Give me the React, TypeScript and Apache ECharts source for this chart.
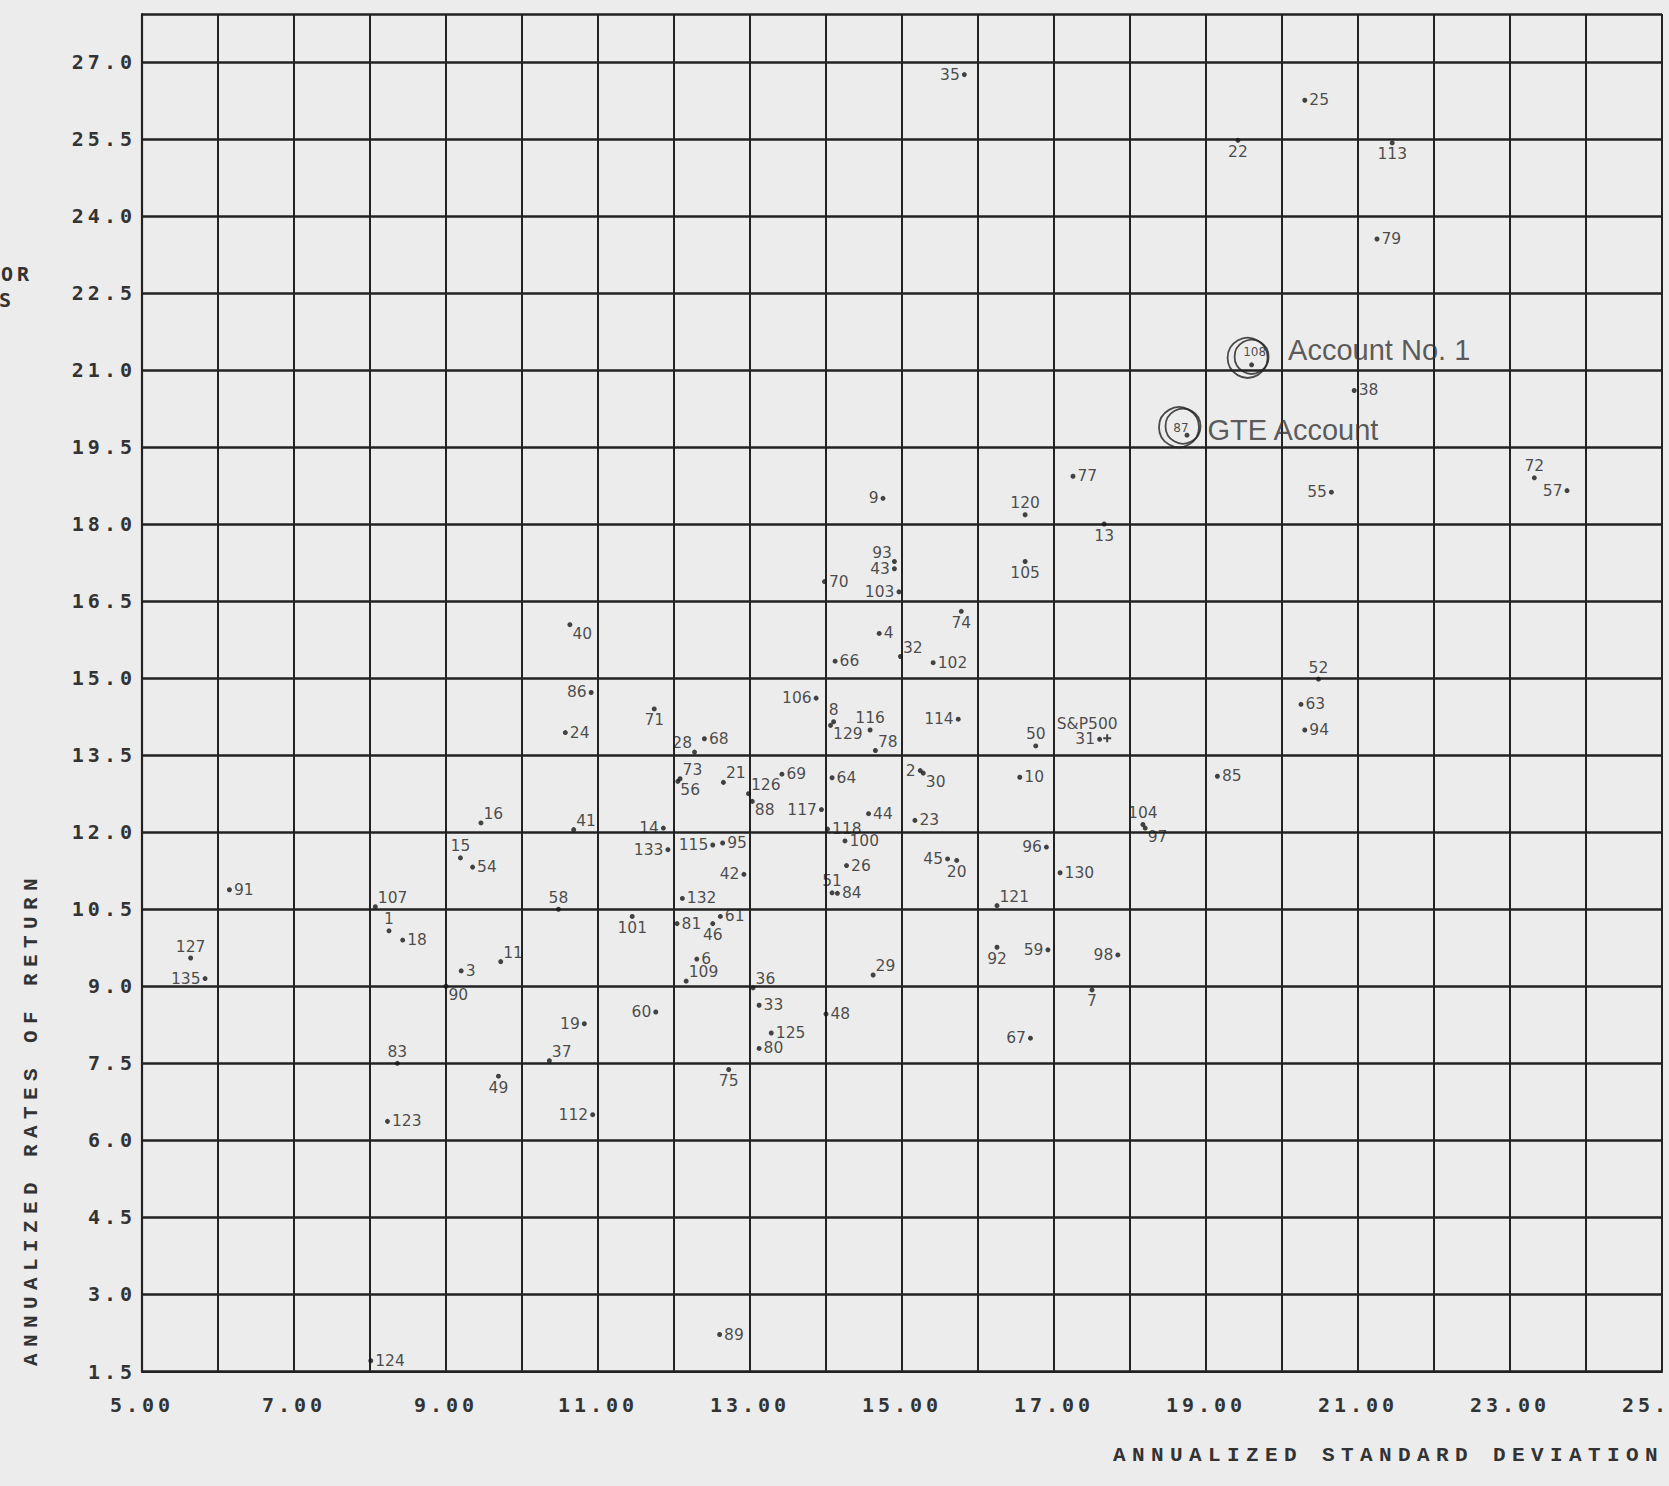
import React, { useEffect, useRef } from "react";
import * as echarts from "echarts";

// ---- data ----
const fundIds = [
  1, 2, 3, 4, 6, 7, 8, 9, 10, 11, 13, 14, 15, 16, 18, 19, 20, 21, 22, 23,
  24, 25, 26, 28, 29, 30, 31, 32, 33, 35, 36, 37, 38, 40, 41, 42, 43, 44, 45, 46,
  48, 49, 50, 51, 52, 54, 55, 56, 57, 58, 59, 60, 61, 63, 64, 66, 67, 68, 69, 70,
  71, 72, 73, 74, 75, 77, 78, 79, 80, 81, 83, 84, 85, 86, 87, 88, 89, 90, 91, 92,
  93, 94, 95, 96, 97, 98, 100, 101, 102, 103, 104, 105, 106, 107, 108, 109, 112, 113, 114, 115,
  116, 117, 118, 120, 121, 123, 124, 125, 126, 127, 129, 130, 132, 133, 135,
];

const stdDevs = [
  8.25, 15.24, 9.2, 14.7, 12.3, 17.5, 14.1, 14.75, 16.55, 9.72, 17.66, 11.86, 9.19, 9.46, 8.43, 10.82, 15.72, 12.65, 19.42, 15.17,
  10.57, 20.3, 14.27, 12.27, 14.62, 15.28, 17.6, 14.98, 13.12, 15.82, 13.04, 10.36, 20.95, 10.63, 10.68, 12.92, 14.9, 14.56, 15.6, 12.51,
  14.0, 9.69, 16.76, 14.08, 20.48, 9.35, 20.65, 12.05, 23.75, 10.48, 16.92, 11.76, 12.61, 20.25, 14.08, 14.12, 16.69, 12.4, 13.42, 13.98,
  11.74, 23.32, 12.08, 15.78, 12.72, 17.25, 14.65, 21.25, 13.12, 12.04, 8.36, 14.15, 19.15, 10.91, 18.75, 13.03, 12.6, 9.0, 6.15, 16.25,
  14.9, 20.3, 12.64, 16.9, 18.2, 17.84, 14.25, 11.45, 15.41, 14.96, 18.17, 16.62, 13.87, 8.07, 19.6, 12.16, 10.93, 21.45, 15.74, 12.51,
  14.58, 13.94, 14.02, 16.62, 16.25, 8.23, 8.01, 13.28, 12.98, 5.64, 14.06, 17.08, 12.11, 11.92, 5.83,
];

const annualReturns = [
  10.08, 13.2, 9.3, 15.87, 9.53, 8.93, 14.15, 18.5, 13.07, 9.48, 18.0, 12.08, 11.5, 12.18, 9.9, 8.27, 11.45, 12.97, 25.47, 12.23,
  13.94, 26.25, 11.35, 13.56, 9.22, 13.15, 13.81, 15.42, 8.63, 26.75, 8.97, 7.55, 20.6, 16.04, 12.05, 11.18, 17.13, 12.36, 11.48, 10.22,
  8.46, 7.25, 13.68, 10.82, 14.98, 11.32, 18.62, 12.99, 18.65, 10.5, 9.71, 8.5, 10.36, 14.49, 13.06, 15.33, 7.99, 13.82, 13.13, 16.88,
  14.4, 18.9, 13.04, 16.3, 7.38, 18.93, 13.59, 23.55, 7.79, 10.22, 7.5, 10.81, 13.09, 14.72, 19.73, 12.6, 2.22, 9.0, 10.88, 9.76,
  17.27, 13.99, 11.79, 11.71, 12.08, 9.61, 11.83, 10.36, 15.3, 16.68, 12.15, 17.27, 14.61, 10.55, 21.1, 9.1, 6.5, 25.42, 14.2, 11.75,
  13.99, 12.44, 12.06, 18.18, 10.57, 6.37, 1.71, 8.09, 12.75, 9.55, 14.08, 11.21, 10.71, 11.66, 9.15,
];

const benchmarkName = ["S&P500"];
const benchmarkStdDev = [17.7];
const benchmarkReturn = [13.83];

const xTickValues = [5, 7, 9, 11, 13, 15, 17, 19, 21, 23, 25];
const yTickStep = 1.5;

const highlighted = [
  { id: 108, title: "Account No. 1" },
  { id: 87, title: "GTE Account" },
];

// ---- label placement (style only) ----
const labelSide: Record<number, string> = {
  1: "t", 2: "l", 3: "r", 4: "r", 6: "r", 7: "b", 8: "t", 9: "l", 10: "r", 11: "tr",
  13: "b", 14: "l", 15: "t", 16: "tr", 18: "r", 19: "l", 20: "b", 21: "tr", 22: "b", 23: "r",
  24: "r", 25: "r", 26: "r", 28: "tl", 29: "tr", 30: "br", 31: "l", 32: "tr", 33: "r", 35: "l",
  36: "tr", 37: "tr", 38: "r", 40: "br", 41: "tr", 42: "l", 43: "l", 44: "r", 45: "l", 46: "b",
  48: "r", 49: "b", 50: "t", 51: "t", 52: "t", 54: "r", 55: "l", 56: "br", 57: "l", 58: "t",
  59: "l", 60: "l", 61: "r", 63: "r", 64: "r", 66: "r", 67: "l", 68: "r", 69: "r", 70: "r",
  71: "b", 72: "t", 73: "tr", 74: "b", 75: "b", 77: "r", 78: "tr", 79: "r", 80: "r", 81: "r",
  83: "t", 84: "r", 85: "r", 86: "l", 87: "c87", 88: "br", 89: "r", 90: "br", 91: "r", 92: "b",
  93: "tl", 94: "r", 95: "r", 96: "l", 97: "br", 98: "l", 100: "r", 101: "b", 102: "r", 103: "l",
  104: "t", 105: "b", 106: "l", 107: "tr", 108: "c108", 109: "tr", 112: "l", 113: "b", 114: "l", 115: "l",
  116: "t", 117: "l", 118: "r", 120: "t", 121: "tr", 123: "r", 124: "r", 125: "r", 126: "tr", 127: "t",
  129: "br", 130: "r", 132: "r", 133: "l", 135: "l",
};

function placement(side: string): any {
  switch (side) {
    case "r":
      return { position: "right", distance: 2 };
    case "l":
      return { position: "left", distance: 2 };
    case "t":
      return { position: "top", distance: 1 };
    case "b":
      return { position: "bottom", distance: 1 };
    case "tr":
      return { position: "right", distance: 1, verticalAlign: "bottom", offset: [-1, -1] };
    case "tl":
      return { position: "left", distance: 1, verticalAlign: "bottom", offset: [1, -1] };
    case "br":
      return { position: "right", distance: 1, verticalAlign: "top", offset: [-1, 1] };
    case "c108":
      return { position: "inside", fontSize: 12, offset: [3, -13] };
    case "c87":
      return { position: "inside", fontSize: 12, offset: [-6, -7] };
    default:
      return { position: "right", distance: 2 };
  }
}

function pointOf(id: number): number[] {
  const i = fundIds.indexOf(id);
  return [stdDevs[i], annualReturns[i]];
}

const INK = "#222222";
const TEXT = "#333333";
const TICK_FONT = "DejaVu Sans Mono";
const NAME_FONT = "Liberation Mono";
const LABEL_FONT = "DejaVu Sans";
const ANNOT_FONT = "Liberation Sans";

const css = `
#chart-root text[style*="DejaVu Sans Mono"] { letter-spacing: 4px; }
#chart-root text[style*="Liberation Mono"] { letter-spacing: 6.4px; }
`;

function ringSeries(id: number, size: number, offset: number[]) {
  return {
    type: "scatter",
    silent: true,
    z: 1,
    symbol: "circle",
    symbolSize: size,
    symbolOffset: offset,
    itemStyle: { color: "rgba(0,0,0,0)", borderColor: INK, borderWidth: 1.8 },
    label: { show: false },
    data: [pointOf(id)],
  };
}

function buildOption(): any {
  const pointData = fundIds.map((id, i) => ({
    name: String(id),
    value: [stdDevs[i], annualReturns[i]],
    label: { show: true, ...placement(labelSide[id] || "r") },
  }));

  const annotationOffsets: Record<number, number[]> = { 108: [36, -15], 87: [20, -5] };

  return {
    animation: false,
    backgroundColor: "#ececec",
    grid: {
      left: 142,
      top: 14,
      width: 1520,
      height: 1357.5,
      containLabel: false,
      outerBoundsMode: "none",
    },
    xAxis: {
      type: "value",
      min: 5,
      max: 25,
      interval: 1,
      axisLine: { show: true, onZero: false, lineStyle: { color: INK, width: 2.2 } },
      axisTick: { show: false },
      splitLine: { show: true, lineStyle: { color: INK, width: 2 } },
      axisLabel: {
        margin: 23,
        fontFamily: TICK_FONT,
        fontWeight: "bold",
        fontSize: 20,
        color: TEXT,
        formatter: (v: number) =>
          xTickValues.some((t) => Math.abs(t - v) < 1e-6) ? v.toFixed(2) : "",
      },
    },
    yAxis: {
      type: "value",
      min: 1.5,
      max: 27.93,
      interval: yTickStep,
      axisLine: { show: true, onZero: false, lineStyle: { color: INK, width: 2.2 } },
      axisTick: { show: false },
      splitLine: { show: true, lineStyle: { color: INK, width: 2.6 } },
      axisLabel: {
        margin: 6,
        fontFamily: TICK_FONT,
        fontWeight: "bold",
        fontSize: 20,
        color: TEXT,
        formatter: (v: number) => {
          const k = v / yTickStep;
          return Math.abs(k - Math.round(k)) < 1e-6 ? v.toFixed(1) : "";
        },
      },
    },
    graphic: [
      {
        type: "text",
        x: 31,
        y: 1119,
        rotation: Math.PI / 2,
        style: {
          text: "ANNUALIZED RATES OF RETURN",
          fontFamily: NAME_FONT,
          fontWeight: "bold",
          fontSize: 21,
          fill: TEXT,
          align: "center",
          verticalAlign: "middle",
        },
      },
      {
        type: "text",
        x: 1664,
        y: 1455,
        style: {
          text: "ANNUALIZED STANDARD DEVIATION",
          fontFamily: NAME_FONT,
          fontWeight: "bold",
          fontSize: 21,
          fill: TEXT,
          align: "right",
          verticalAlign: "middle",
        },
      },
      {
        type: "text",
        x: 33,
        y: 274,
        style: { text: "OR", fontFamily: TICK_FONT, fontWeight: "bold", fontSize: 20, fill: TEXT, align: "right", verticalAlign: "middle" },
      },
      {
        type: "text",
        x: 15,
        y: 300,
        style: { text: "S", fontFamily: TICK_FONT, fontWeight: "bold", fontSize: 20, fill: TEXT, align: "right", verticalAlign: "middle" },
      },
    ],
    series: [
      ringSeries(108, 40, [-4, -7]),
      ringSeries(108, 34, [0, -8]),
      ringSeries(87, 40, [-8, -8]),
      ringSeries(87, 35, [-4, -9]),
      {
        type: "scatter",
        name: "funds",
        z: 3,
        symbol: "circle",
        symbolSize: 5,
        itemStyle: { color: "#181818" },
        label: {
          show: true,
          formatter: "{b}",
          fontFamily: LABEL_FONT,
          fontSize: 15.5,
          color: "#1e1e1e",
        },
        data: pointData,
      },
      {
        type: "scatter",
        name: benchmarkName[0],
        z: 3,
        symbol:
          "path://M-1,-4 L1,-4 L1,-1 L4,-1 L4,1 L1,1 L1,4 L-1,4 L-1,1 L-4,1 L-4,-1 L-1,-1 Z",
        symbolSize: 8,
        itemStyle: { color: "#181818" },
        label: {
          show: true,
          formatter: "{b}",
          position: "top",
          distance: 1,
          offset: [-20, -1],
          fontFamily: LABEL_FONT,
          fontSize: 15.5,
          color: "#1e1e1e",
        },
        data: benchmarkName.map((n, i) => ({ name: n, value: [benchmarkStdDev[i], benchmarkReturn[i]] })),
      },
      {
        type: "scatter",
        name: "annotations",
        z: 4,
        silent: true,
        symbol: "circle",
        symbolSize: 1,
        itemStyle: { color: "rgba(0,0,0,0)" },
        label: {
          show: true,
          formatter: "{b}",
          position: "right",
          distance: 0,
          fontFamily: ANNOT_FONT,
          fontSize: 29,
          color: "#333333",
        },
        data: highlighted.map((h) => ({
          name: h.title,
          value: pointOf(h.id),
          label: { offset: annotationOffsets[h.id] },
        })),
      },
    ],
  };
}

export default function App() {
  const ref = useRef<HTMLDivElement>(null);
  useEffect(() => {
    if (!ref.current) return;
    const chart = echarts.init(ref.current, null, { renderer: "svg" });
    chart.setOption(buildOption());
    return () => chart.dispose();
  }, []);
  return (
    <div
      id="chart-root"
      style={{ position: "absolute", left: 0, top: 0, width: 1669, height: 1486, background: "#ececec", overflow: "hidden" }}
    >
      <style>{css}</style>
      <div ref={ref} style={{ width: 1669, height: 1486 }} />
    </div>
  );
}
